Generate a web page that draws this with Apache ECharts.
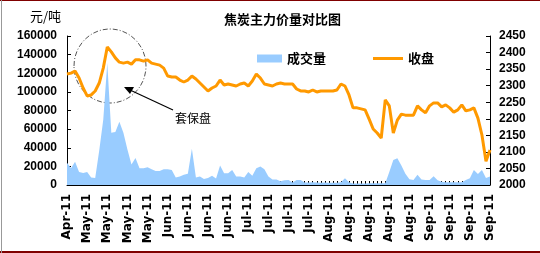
<!DOCTYPE html>
<html lang="zh">
<head>
    <meta charset="UTF-8">
    <title>焦炭主力价量对比图</title>
    <script src="https://cdn.jsdelivr.net/npm/echarts@6/dist/echarts.min.js"></script>
    <style>
        html, body { margin: 0; padding: 0; background: #fff; }
        #chart { width: 540px; height: 253px; }
    </style>
</head>
<body>
<div id="chart"></div>
<script>
    // x轴：按月份展开的交易日类目
    var monthLabels = ['Apr-11', 'May-11', 'Jun-11', 'Jul-11', 'Aug-11', 'Sep-11'];
    var monthCounts = [5, 20, 20, 20, 25, 16];

    // 成交量（左轴）
    var volume = [
        24000, 18000, 25000, 14000, 13000, 14000, 8000, 7500, 37000, 70000,
        131000, 56000, 57000, 68000, 56000, 38000, 22000, 29000, 18000, 18000,
        19000, 17000, 15000, 15000, 17000, 17000, 16000, 8000, 9000, 11000,
        12000, 39000, 8000, 9000, 6500, 7500, 10000, 7000, 21000, 12500,
        12500, 16000, 9000, 9000, 8000, 14000, 10000, 18000, 20000, 17000,
        9000, 6000, 6000, 4000, 5000, 5400, 2700, 5400, 5400, 2700,
        2700, 3000, 2700, 2500, 2700, 2500, 2500, 2500, 3000, 7200,
        3000, 1700, 1700, 1700, 1700, 1800, 1800, 1800, 1800, 2000,
        14000, 26800, 28600, 21000, 12000, 6100, 5400, 11000, 6000, 5400,
        5400, 9500, 5000, 3600, 3000, 3000, 3000, 3000, 3000, 5400,
        7200, 16000, 11800, 16000, 7500, 9000
    ];

    // 收盘价（右轴）
    var close = [
        2335, 2338, 2344, 2323, 2293, 2269, 2272, 2284, 2308, 2353,
        2417, 2402, 2384, 2371, 2368, 2371, 2365, 2378, 2378, 2374,
        2378, 2368, 2365, 2362, 2353, 2329, 2326, 2326, 2317, 2311,
        2317, 2329, 2320, 2308, 2296, 2284, 2293, 2299, 2317, 2302,
        2305, 2302, 2299, 2305, 2308, 2299, 2314, 2335, 2323, 2305,
        2302, 2299, 2305, 2308, 2305, 2305, 2305, 2290, 2284, 2284,
        2281, 2287, 2281, 2284, 2284, 2284, 2284, 2287, 2305, 2299,
        2272, 2233, 2233, 2230, 2227, 2199, 2169, 2157, 2142, 2257,
        2239, 2157, 2196, 2214, 2211, 2211, 2211, 2239, 2227, 2218,
        2239, 2248, 2248, 2236, 2242, 2233, 2220, 2227, 2242, 2224,
        2227, 2233, 2202, 2151, 2072, 2106
    ];

    var categories = [];
    monthLabels.forEach(function (m, i) {
        for (var k = 0; k < monthCounts[i]; k++) {
            categories.push(m);
        }
    });

    var labelFont = 'Liberation Sans, Arial, sans-serif';
    var cjkFont = 'Noto Sans CJK SC, sans-serif';
    var plainNum = function (v) { return String(v); };

    var option = {
        animation: false,
        backgroundColor: '#fff',
        title: {
            text: '焦炭主力价量对比图',
            left: 219,
            top: 8,
            textStyle: { fontSize: 13, fontWeight: 'bold', color: '#000', fontFamily: cjkFont }
        },
        legend: [{
            data: [{ name: '成交量', icon: 'rect' }],
            left: 252,
            top: 47,
            itemWidth: 25,
            itemHeight: 8,
            textStyle: { fontSize: 13, fontWeight: 'bold', color: '#000', fontFamily: cjkFont }
        }, {
            data: [{ name: '收盘', icon: 'rect' }],
            left: 368,
            top: 47,
            itemWidth: 30,
            itemHeight: 3,
            textStyle: { fontSize: 13, fontWeight: 'bold', color: '#000', fontFamily: cjkFont }
        }],
        grid: { left: 67, right: 50, top: 36, bottom: 68 },
        xAxis: {
            type: 'category',
            data: categories,
            boundaryGap: false,
            axisLine: { lineStyle: { color: '#000', width: 1 } },
            axisTick: { inside: true, length: 4, interval: 0, lineStyle: { color: '#000' } },
            axisLabel: {
                interval: 4,
                rotate: 90,
                margin: 9,
                color: '#000',
                fontSize: 12,
                fontWeight: 'bold',
                fontFamily: 'DejaVu Sans, sans-serif'
            },
            splitLine: { show: false }
        },
        yAxis: [{
            type: 'value',
            min: 0,
            max: 160000,
            interval: 20000,
            axisLine: { show: true, lineStyle: { color: '#000' } },
            axisTick: { show: true, inside: true, length: 4, lineStyle: { color: '#000' } },
            axisLabel: { formatter: plainNum, color: '#000', fontSize: 12, fontWeight: 'bold', margin: 10, fontFamily: labelFont },
            splitLine: { show: false }
        }, {
            type: 'value',
            min: 2000,
            max: 2450,
            interval: 50,
            position: 'right',
            axisLine: { show: true, lineStyle: { color: '#000' } },
            axisTick: { show: true, inside: true, length: 4, lineStyle: { color: '#000' } },
            axisLabel: { formatter: plainNum, color: '#000', fontSize: 12, fontWeight: 'bold', margin: 9, fontFamily: labelFont },
            splitLine: { show: false }
        }],
        series: [{
            name: '成交量',
            type: 'line',
            yAxisIndex: 0,
            data: volume,
            symbol: 'none',
            color: '#99CCFF',
            lineStyle: { width: 0 },
            areaStyle: { color: '#99CCFF', opacity: 1 }
        }, {
            name: '收盘',
            type: 'line',
            yAxisIndex: 1,
            data: close,
            symbol: 'none',
            color: '#FF9900',
            lineStyle: { width: 3, color: '#FF9900' }
        }],
        graphic: [{
            type: 'text',
            left: 30,
            top: 10,
            style: { text: '元/吨', fill: '#000', font: '13px ' + cjkFont }
        }, {
            type: 'ellipse',
            shape: { cx: 110, cy: 66, rx: 36, ry: 37 },
            style: { fill: 'none', stroke: '#555', lineWidth: 1, lineDash: [5, 2, 1, 2] }
        }, {
            type: 'line',
            shape: { x1: 173, y1: 110, x2: 130, y2: 90 },
            style: { stroke: '#000', lineWidth: 1.2 }
        }, {
            type: 'polygon',
            shape: { points: [[124, 87], [134, 87], [130, 94]] },
            style: { fill: '#000' }
        }, {
            type: 'text',
            left: 175,
            top: 112,
            style: { text: '套保盘', fill: '#000', font: '12px ' + cjkFont }
        }, {
            type: 'rect',
            shape: { x: 0, y: 0, width: 540, height: 1 },
            style: { fill: '#800000' }
        }, {
            type: 'rect',
            shape: { x: 0, y: 251, width: 540, height: 2 },
            style: { fill: '#800000' }
        }, {
            type: 'rect',
            shape: { x: 1, y: 0, width: 1, height: 253 },
            style: { fill: '#999' }
        }]
    };

    var mychart = echarts.init(document.getElementById('chart'));
    mychart.setOption(option);
</script>
</body>
</html>
